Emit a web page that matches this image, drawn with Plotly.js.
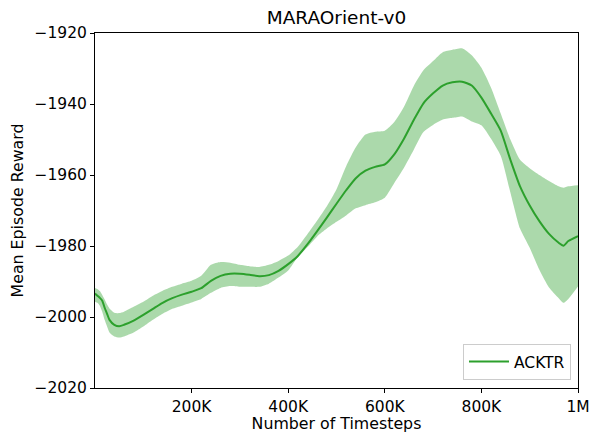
<!DOCTYPE html>
<html>
<head>
<meta charset="utf-8">
<script src="https://cdn.plot.ly/plotly-3.0.1.min.js"></script>
<style>html,body{margin:0;padding:0;background:#fff;}#chart{width:589px;height:433px;}</style>
</head>
<body>
<div id="chart"></div>
<script>
// Timesteps (in thousands)
var stepsK = [0,5,10,15,20,25,30,40,50,60,80,100,120,140,160,180,200,220,240,260,280,300,320,340,360,380,400,420,440,460,480,500,520,540,560,580,600,620,640,660,680,700,720,740,760,780,800,820,840,860,880,900,920,940,960,970,980,1000];
var meanReward = [-1993.4,-1994.0,-1994.6,-1995.4,-1997.4,-1999.1,-2000.8,-2002.2,-2002.6,-2002.2,-2001.0,-1999.4,-1997.7,-1996.0,-1994.7,-1993.7,-1992.9,-1991.9,-1989.8,-1988.4,-1987.8,-1987.8,-1988.1,-1988.5,-1988.2,-1987.0,-1985.1,-1982.8,-1979.5,-1975.8,-1972.0,-1968.1,-1964.3,-1960.9,-1958.8,-1957.7,-1957.0,-1954.1,-1949.7,-1944.5,-1939.8,-1937.0,-1934.8,-1933.9,-1933.7,-1934.8,-1938.2,-1942.7,-1947.5,-1955.7,-1963.2,-1968.6,-1973.0,-1976.6,-1979.1,-1979.9,-1978.6,-1977.2];
var upperReward = [-1991.8,-1992.1,-1992.7,-1993.8,-1995.1,-1996.5,-1997.6,-1998.8,-1998.9,-1998.5,-1997.1,-1995.7,-1994.0,-1992.6,-1991.5,-1990.6,-1989.8,-1988.4,-1985.3,-1984.5,-1984.7,-1985.3,-1985.7,-1985.9,-1985.3,-1984.2,-1982.7,-1980.2,-1976.6,-1972.8,-1968.8,-1964.0,-1957.5,-1952.2,-1948.6,-1947.8,-1947.5,-1945.0,-1940.7,-1934.9,-1930.5,-1927.9,-1925.4,-1924.7,-1924.3,-1926.3,-1929.8,-1935.4,-1942.7,-1950.0,-1955.7,-1958.1,-1960.0,-1961.7,-1963.2,-1963.6,-1963.2,-1962.9];
var lowerReward = [-1995.7,-1996.0,-1996.8,-1998.5,-2000.8,-2002.7,-2004.4,-2005.5,-2005.8,-2005.5,-2004.4,-2002.7,-2000.8,-1999.1,-1997.7,-1996.8,-1995.9,-1994.9,-1993.2,-1991.8,-1991.3,-1991.5,-1991.5,-1991.5,-1990.6,-1988.9,-1986.9,-1983.1,-1980.3,-1977.3,-1975.1,-1973.2,-1971.4,-1969.4,-1968.5,-1967.7,-1966.4,-1962.2,-1957.9,-1952.9,-1947.9,-1945.9,-1944.4,-1943.9,-1943.5,-1944.9,-1946.0,-1949.8,-1954.6,-1964.9,-1975.1,-1980.5,-1986.7,-1991.7,-1994.7,-1996.0,-1994.9,-1991.4];
var xTickVals = [200000,400000,600000,800000,1000000];
var xTickText = ["200K","400K","600K","800K","1M"];
var yTickVals = [-2020,-2000,-1980,-1960,-1940,-1920];
var yTickText = ["\u22122020","\u22122000","\u22121980","\u22121960","\u22121940","\u22121920"];
var seriesName = "ACKTR";

var xs = stepsK.map(function(k){return k*1000;});
var green = "#2ca02c";
var font = "DejaVu Sans, sans-serif";

var traces = [
  {x: xs, y: upperReward, type: "scatter", mode: "lines", line: {width: 0, color: green, shape: "spline", smoothing: 0.6}, showlegend: false, hoverinfo: "skip"},
  {x: xs, y: lowerReward, type: "scatter", mode: "lines", line: {width: 0, color: green, shape: "spline", smoothing: 0.6}, fill: "tonexty", fillcolor: "rgba(44,160,44,0.4)", showlegend: false, hoverinfo: "skip"},
  {x: xs, y: meanReward, type: "scatter", mode: "lines", name: seriesName, line: {width: 2, color: green, shape: "spline", smoothing: 0.6}}
];

var axisCommon = {
  showgrid: false, zeroline: false, showline: true, linecolor: "#000", linewidth: 1, mirror: true,
  ticks: "outside", ticklen: 4, tickwidth: 1, tickcolor: "#000", ticklabeloverflow: "allow",
  tickfont: {family: font, size: 15.5, color: "#000"}
};

var layout = {
  width: 589, height: 433, autosize: false,
  margin: {l: 95, r: 11, t: 33, b: 45, pad: 0},
  paper_bgcolor: "#fff", plot_bgcolor: "#fff",
  font: {family: font, color: "#000"},
  title: {text: "MARAOrient-v0", font: {family: font, size: 18.5, color: "#000"}, x: 0.5, xref: "paper", y: 1 - 18/433, yref: "container", yanchor: "middle"},
  xaxis: Object.assign({}, axisCommon, {range: [0, 1000000], tickmode: "array", tickvals: xTickVals, ticktext: xTickText,
    title: {text: "Number of Timesteps", font: {family: font, size: 15.8, color: "#000"}, standoff: 3}}),
  yaxis: Object.assign({}, axisCommon, {range: [-2020, -1920], tickmode: "array", tickvals: yTickVals, ticktext: yTickText,
    title: {text: "Mean Episode Reward", font: {family: font, size: 15.8, color: "#000"}, standoff: 6}}),
  legend: {x: 0.9855, y: 0.0225, xanchor: "right", yanchor: "bottom", bgcolor: "#fff", bordercolor: "#cccccc", borderwidth: 1,
    itemwidth: 40, font: {family: font, size: 15.5, color: "#000"}},
  showlegend: true
};

Plotly.newPlot("chart", traces, layout, {displayModeBar: false, staticPlot: true});
</script>
</body>
</html>
